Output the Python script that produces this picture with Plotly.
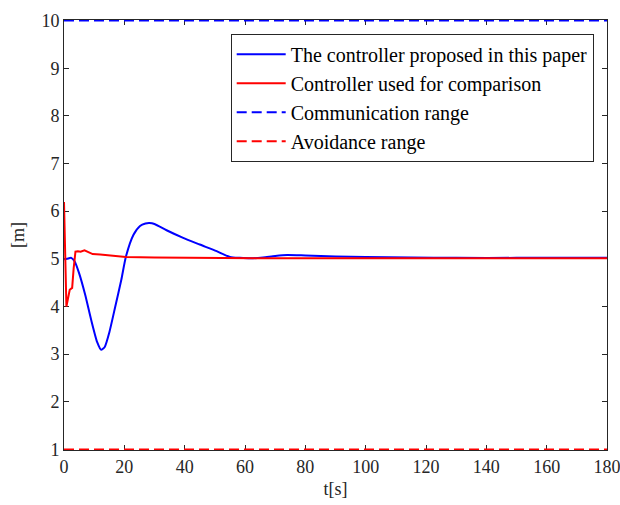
import plotly.graph_objects as go

# Data
t_blue = [0, 1, 2.4, 3.5, 5, 7, 9, 11, 12.3, 13.5, 15, 17, 19, 20.5, 23, 25.2, 27, 28.3, 30, 34,
          39.5, 45, 50.6, 55, 58.3, 62, 66, 70, 74, 80, 90, 100, 115, 130, 150, 180]
y_blue = [4.99, 5.0, 5.02, 4.95, 4.7, 4.25, 3.72, 3.25, 3.09, 3.15, 3.45, 4.0, 4.56, 5.04, 5.5, 5.69,
          5.74, 5.75, 5.73, 5.6, 5.44, 5.30, 5.16, 5.04, 5.02, 5.01, 5.03, 5.06, 5.08, 5.07, 5.05,
          5.04, 5.03, 5.02, 5.02, 5.02]

t_red = [0, 0.8, 1.9, 2.7, 3.2, 3.8, 4.6, 5.5, 6.8, 8, 9.5, 12, 16, 20.5, 30, 45, 65, 100, 180]
y_red = [6.19, 4.0, 4.35, 4.39, 4.8, 5.15, 5.16, 5.15, 5.18, 5.14, 5.1, 5.09, 5.06, 5.04, 5.03,
         5.02, 5.01, 5.01, 5.01]

t_range = [0, 180]
comm_range = [10, 10]
avoid_range = [1, 1]

names = ["The controller proposed in this paper", "Controller used for comparison",
         "Communication range", "Avoidance range"]

x_ticks = list(range(0, 181, 20))
y_ticks = list(range(1, 11))

font = "Liberation Serif, Times New Roman, serif"
axc = "#262626"

fig = go.Figure()
fig.add_trace(go.Scatter(x=t_blue, y=y_blue, mode="lines", name=names[0],
                         line=dict(color="#0000FF", width=2, shape="spline", smoothing=0.6)))
fig.add_trace(go.Scatter(x=t_red, y=y_red, mode="lines", name=names[1],
                         line=dict(color="#FF0000", width=2)))
fig.add_trace(go.Scatter(x=t_range, y=comm_range, mode="lines", name=names[2], cliponaxis=False,
                         line=dict(color="#0000FF", width=2, dash="10px,5px")))
fig.add_trace(go.Scatter(x=t_range, y=avoid_range, mode="lines", name=names[3], cliponaxis=False,
                         line=dict(color="#FF0000", width=2, dash="10px,5px")))

axis_common = dict(showline=True, linecolor=axc, linewidth=1, mirror="ticks", ticks="inside",
                   ticklen=5, tickcolor=axc, showgrid=False, zeroline=False,
                   tickfont=dict(family=font, size=18, color=axc), layer="below traces",
                   ticklabeloverflow="allow", automargin=False)

fig.update_layout(
    width=620, height=505,
    margin=dict(l=64, r=13, t=20, b=55),
    paper_bgcolor="white", plot_bgcolor="white",
    font=dict(family=font, size=18, color=axc),
    xaxis=dict(range=[0, 180], tickvals=x_ticks,
               title=dict(text="t[s]", font=dict(family=font, size=18, color=axc), standoff=6),
               **axis_common),
    yaxis=dict(range=[0.988, 10.012], tickvals=y_ticks,
               title=dict(text="[m]", font=dict(family=font, size=18, color=axc), standoff=12),
               **axis_common),
    legend=dict(x=0.307, y=0.968, xanchor="left", yanchor="top",
                bordercolor=axc, borderwidth=1, bgcolor="white",
                font=dict(family=font, size=20, color="black"),
                tracegroupgap=0, itemwidth=49),
    showlegend=True,
)

fig.write_html("out.html")
